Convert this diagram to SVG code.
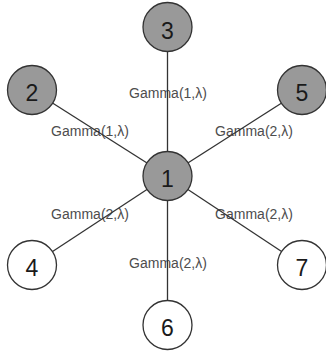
<svg xmlns="http://www.w3.org/2000/svg" width="326" height="354" viewBox="0 0 326 354">
  <style>
    .bg { fill: #ffffff; }
    .edge { stroke: #333333; stroke-width: 1.3; fill: none; }
    .lbl { font-family: "Liberation Sans", Arial, sans-serif; font-size: 14px; fill: #4d4d4d; text-anchor: middle; }
    .node circle { stroke: #333333; stroke-width: 1.3; }
    .node.dark circle { fill: #999999; }
    .node.light circle { fill: #ffffff; }
    .node text { font-family: "Liberation Sans", Arial, sans-serif; font-size: 23px; fill: #1a1a1a; text-anchor: middle; }
  </style>
  <rect class="bg" x="0" y="0" width="326" height="354"/>

  <!-- edge labels sit under the connector strokes -->
  <g id="labels">
    <text class="lbl" x="168" y="97.5">Gamma(1,λ)</text>
    <text class="lbl" x="90" y="135.5">Gamma(1,λ)</text>
    <text class="lbl" x="254" y="135.5">Gamma(2,λ)</text>
    <text class="lbl" x="90" y="219">Gamma(2,λ)</text>
    <text class="lbl" x="254" y="219">Gamma(2,λ)</text>
    <text class="lbl" x="168" y="268">Gamma(2,λ)</text>
  </g>

  <!-- spokes from the hub to each outer node -->
  <g id="connectors">
    <line class="edge" x1="167.5" y1="176" x2="167.5" y2="27"/>
    <line class="edge" x1="167.5" y1="176" x2="32" y2="90"/>
    <line class="edge" x1="167.5" y1="176" x2="302" y2="90"/>
    <line class="edge" x1="167.5" y1="176" x2="32" y2="265"/>
    <line class="edge" x1="167.5" y1="176" x2="302" y2="265"/>
    <line class="edge" x1="167.5" y1="176" x2="167.5" y2="325"/>
  </g>

  <g id="node-1" class="node dark">
    <circle cx="167.5" cy="176" r="24.5"/>
    <text x="167.5" y="186.5">1</text>
  </g>
  <g id="node-2" class="node dark">
    <circle cx="32" cy="90" r="24.5"/>
    <text x="32" y="100.5">2</text>
  </g>
  <g id="node-3" class="node dark">
    <circle cx="167.5" cy="27" r="24.5"/>
    <text x="167.5" y="38.5">3</text>
  </g>
  <g id="node-5" class="node dark">
    <circle cx="302" cy="90" r="24.5"/>
    <text x="302" y="100.5">5</text>
  </g>
  <g id="node-4" class="node light">
    <circle cx="32" cy="265" r="24.5"/>
    <text x="32" y="275.5">4</text>
  </g>
  <g id="node-7" class="node light">
    <circle cx="302" cy="265" r="24.5"/>
    <text x="302" y="275.5">7</text>
  </g>
  <g id="node-6" class="node light">
    <circle cx="167.5" cy="325" r="24.5"/>
    <text x="167.5" y="335.5">6</text>
  </g>
</svg>
